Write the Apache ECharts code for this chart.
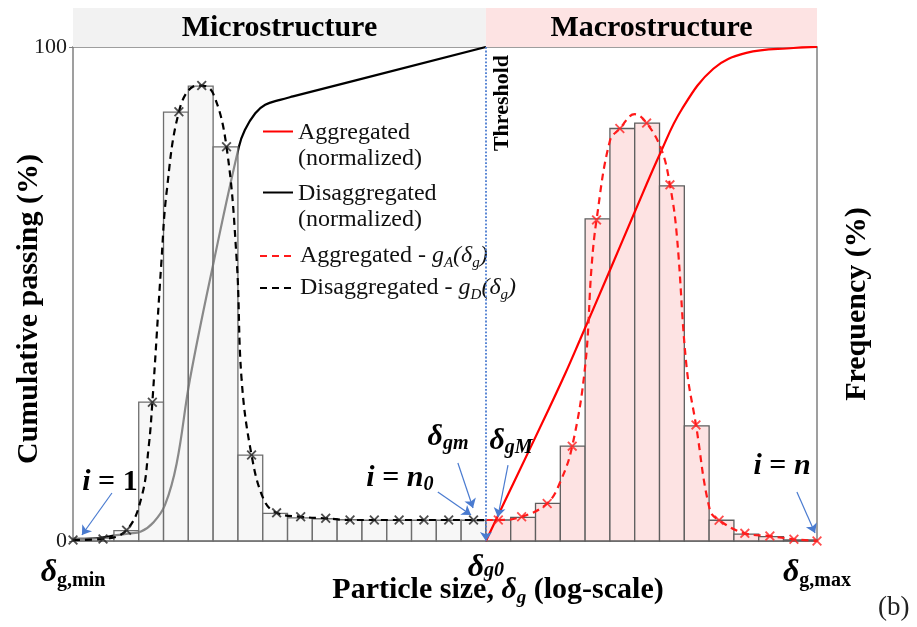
<!DOCTYPE html>
<html>
<head>
<meta charset="utf-8">
<script src="https://cdn.jsdelivr.net/npm/echarts@6/dist/echarts.min.js"></script>
<style>html,body{margin:0;padding:0;background:#fff;}#c{width:917px;height:627px;}</style>
</head>
<body>
<div id="c"></div>
<script>
// ---------------- data (x in log-scale bin units, threshold = 0) ----------------
const microEdges = [-16.65,-15,-14,-13,-12,-11,-10,-9,-8,-7,-6,-5,-4,-3,-2,-1,0];
const microFreq  = [0.6,2.1,28.1,86.8,92.1,79.8,17.4,5.6,4.7,4.5,4.3,4.2,4.2,4.2,4.2,4.2];
const macroEdges = [0,1,2,3,4,5,6,7,8,9,10,11,12,13.35];
const macroFreq  = [4.25,4.8,7.6,19.2,65.2,83.5,84.6,71.9,23.3,4.2,1.4,0.9,0.2];

const cumDX = [-16.65,-15.5,-14.9,-14.4,-13.91,-13.4,-12.94,-12.47,-11.94,-10.96,-9.96,-9.72,-9.3,-8.9,-8.3,-7.78,0];
const cumDY = [0.2,0.7,1.2,1.5,1.9,3.8,7.3,15.7,32.6,56.9,79.8,83.2,86.6,88.3,89.3,90.0,100];
const cumAX = [0,1.1,2.45,3.19,3.79,5.0,6.0,7.02,7.9,9.17,10.5,12.4,13.35];
const cumAY = [0,11.6,25.8,33.8,40.7,54.8,66.6,78.4,87.4,95.6,98.8,99.8,100];

const gDX = [-16.65,-15.44,-14.49,-13.88,-13.6,-13.45,-13.08,-12.88,-12.38,-11.8,-11.46,-11.0,-10.46,-10.05,-9.85,-9.45,-8.95,-8.44,-7.47,-6.46,-5.48,-4.5,-3.5,-2.5,-1.5,-0.5,0];
const gDY = [0.2,0.4,2.2,9.0,19.0,28.1,56.9,70.4,86.9,92.0,92.2,90.6,79.8,56.9,32.6,17.4,8.3,5.7,4.9,4.6,4.25,4.25,4.25,4.25,4.25,4.25,4.2];
const gDMarkX = [-16.65,-15.44,-14.49,-13.45,-12.38,-11.46,-10.46,-9.45,-8.44,-7.47,-6.46,-5.48,-4.5,-3.5,-2.5,-1.5,-0.5];
const gDMarkY = [0.2,0.4,2.2,28.1,86.9,92.2,79.8,17.4,5.7,4.9,4.6,4.25,4.25,4.25,4.25,4.25,4.25];

const gAX = [0,0.5,1.44,2.47,3.0,3.48,4.0,4.26,4.46,5.0,5.4,6.0,6.48,7.08,7.42,7.69,8.09,8.47,9.03,9.4,10.44,11.45,12.42,13.35];
const gAY = [4.25,4.25,4.9,7.6,12.0,19.2,35.3,55.5,65.0,81.0,83.5,86.4,84.6,79.2,72.1,62.3,35.3,23.5,6.3,4.2,1.55,1.0,0.35,0];
const gAMarkX = [0.5,1.44,2.47,3.48,4.46,5.4,6.48,7.42,8.47,9.4,10.44,11.45,12.42,13.35];
const gAMarkY = [4.25,4.9,7.6,19.2,65.0,83.5,84.6,72.1,23.5,4.2,1.55,1.0,0.35,0];

const xTickValues = [-16.65, 0, 13.35];
const xTickLabels = ['{d|δ}{sb|g,min}', '{d0|δ}{si0|g0}', '{d|δ}{sb|g,max}'];
const yTickValues = [0, 100];
const headerEdges = [[-16.65, 0], [0, 13.35]];
const headerNames = ['Microstructure', 'Macrostructure'];

const noteX = [-15.16, -3.47, -1.53, 1.01, 11.94, 0.65];
const noteY = [11.94, 12.75, 21.05, 20.24, 15.18, 88.66];
const noteText = ['{bi|i}{b| = 1}', '{bi|i}{b| = }{bi|n}{bs|0}', '{bi|δ}{bs|gm}', '{bi|δ}{bs|gM}', '{bi|i}{b| = }{bi|n}', '{th|Threshold}'];
const arrowFrom = [[-15.08, 9.72], [-1.94, 9.92], [-1.13, 15.79], [0.89, 15.38], [12.54, 9.92]];
const arrowTo   = [[-16.29, 1.21], [-0.60, 5.26], [-0.52, 6.68], [0.48, 4.86], [13.27, 1.62]];

const NAME_AGG_N = 'Aggregated (normalized)';
const NAME_DIS_N = 'Disaggregated (normalized)';
const NAME_AGG_G = 'Aggregated - gA';
const NAME_DIS_G = 'Disaggregated - gD';
const legendText = {};
legendText[NAME_AGG_N] = '{t1|Aggregated}\n{t2|(normalized)}';
legendText[NAME_DIS_N] = '{t1|Disaggregated}\n{t2|(normalized)}';
legendText[NAME_AGG_G] = '{r|Aggregated - }{i|g}{s|A}{i|(δ}{s|g}{i|)}';
legendText[NAME_DIS_G] = '{r|Disaggregated - }{i|g}{s|D}{i|(δ}{s|g}{i|)}';

// ---------------- styling ----------------
const SERIF = "'Liberation Serif','Times New Roman',serif";
const AXIS_GRAY = '#7f7f7f';
const BLUE = '#4a7bd0';
const XMARK = 'path://M0,1.3L1.3,0L5,3.7L8.7,0L10,1.3L6.3,5L10,8.7L8.7,10L5,6.3L1.3,10L0,8.7L3.7,5Z';

const pairs = (xs, ys) => xs.map((x, i) => [x, ys[i]]);
const binData = (edges, freq) => freq.map((f, i) => [edges[i], edges[i + 1], f]);

function barRenderer(fill, stroke) {
  return function (params, api) {
    const p0 = api.coord([api.value(0), api.value(2)]);
    const p1 = api.coord([api.value(1), 0]);
    return {
      type: 'rect',
      shape: { x: p0[0], y: p0[1], width: p1[0] - p0[0], height: p1[1] - p0[1] },
      style: { fill: fill, stroke: stroke, lineWidth: 1.3 }
    };
  };
}

const legendRich = {
  t1: { fontFamily: SERIF, fontSize: 24, color: '#111', lineHeight: 54, verticalAlign: 'bottom' },
  t2: { fontFamily: SERIF, fontSize: 24, color: '#111', lineHeight: 27 },
  r: { fontFamily: SERIF, fontSize: 24, color: '#111', lineHeight: 30 },
  i: { fontFamily: SERIF, fontSize: 24, fontStyle: 'italic', color: '#111', lineHeight: 30 },
  s: { fontFamily: SERIF, fontSize: 15, fontStyle: 'italic', color: '#111', lineHeight: 30, verticalAlign: 'bottom' }
};
function makeLegend(name, left, top, w) {
  return {
    data: [name], orient: 'vertical', left: left, top: top, padding: 0,
    itemWidth: w, itemHeight: 14, selectedMode: false,
    itemStyle: { color: 'rgba(0,0,0,0)', borderColor: 'rgba(0,0,0,0)', borderWidth: 0, opacity: 0 },
    formatter: n => legendText[n],
    textStyle: { rich: legendRich, fontFamily: SERIF, fontSize: 24, color: '#111' }
  };
}

const noteRich = {
  bi: { fontFamily: SERIF, fontSize: 30, fontWeight: 'bold', fontStyle: 'italic', color: '#000', lineHeight: 34 },
  b: { fontFamily: SERIF, fontSize: 30, fontWeight: 'bold', color: '#000', lineHeight: 34 },
  bs: { fontFamily: SERIF, fontSize: 20, fontWeight: 'bold', fontStyle: 'italic', color: '#000', lineHeight: 34, verticalAlign: 'bottom' },
  th: { fontFamily: SERIF, fontSize: 22, fontWeight: 'bold', color: '#000' }
};

const axisLineStyle = { show: true, onZero: false, lineStyle: { color: AXIS_GRAY, width: 1.5 } };

const option = {
  animation: false,
  backgroundColor: '#fff',
  title: { text: '(b)', left: 878, top: 594, padding: 0,
    textStyle: { fontFamily: SERIF, fontSize: 27, fontWeight: 'normal', color: '#222' } },
  legend: [
    makeLegend(NAME_AGG_N, 262, 121, 30),
    makeLegend(NAME_DIS_N, 262, 182, 30),
    makeLegend(NAME_AGG_G, 259, 244, 35),
    makeLegend(NAME_DIS_G, 259, 276, 35)
  ],
  grid: [
    { left: 73, right: 100, top: 47, bottom: 86, containLabel: false, outerBoundsMode: 'none' },
    { left: 73, right: 100, top: 8, height: 39, containLabel: false, outerBoundsMode: 'none' }
  ],
  xAxis: [
    { type: 'value', gridIndex: 0, position: 'bottom', min: -16.65, max: 13.35,
      axisLine: axisLineStyle, axisTick: { show: false }, splitLine: { show: false },
      axisLabel: { show: true, customValues: xTickValues, showMinLabel: true, showMaxLabel: true, margin: 14,
        formatter: (v) => xTickLabels[xTickValues.indexOf(v)] || '',
        rich: {
          d: { fontFamily: SERIF, fontSize: 32, fontStyle: 'italic', fontWeight: 'bold', color: '#000', lineHeight: 36 },
          sb: { fontFamily: SERIF, fontSize: 20, fontWeight: 'bold', color: '#000', lineHeight: 36, verticalAlign: 'bottom' },
          d0: { fontFamily: SERIF, fontSize: 32, fontStyle: 'italic', fontWeight: 'bold', color: '#000', lineHeight: 26 },
          si0: { fontFamily: SERIF, fontSize: 20, fontWeight: 'bold', fontStyle: 'italic', color: '#000', lineHeight: 26, verticalAlign: 'bottom' }
        } },
      name: '{b|Particle size, }{d|δ}{s|g}{b| (log-scale)}', nameLocation: 'middle', nameGap: 31, nameMoveOverlap: false,
      nameTextStyle: { padding: [0, 0, 0, 106], rich: {
        b: { fontFamily: SERIF, fontSize: 30, fontWeight: 'bold', color: '#000', lineHeight: 36 },
        d: { fontFamily: SERIF, fontSize: 30, fontWeight: 'bold', fontStyle: 'italic', color: '#000', lineHeight: 36 },
        s: { fontFamily: SERIF, fontSize: 19, fontWeight: 'bold', fontStyle: 'italic', color: '#000', lineHeight: 36, verticalAlign: 'bottom' }
      } } },
    { type: 'value', gridIndex: 0, position: 'top', min: -16.65, max: 13.35,
      axisLine: axisLineStyle, axisTick: { show: false }, axisLabel: { show: false }, splitLine: { show: false } },
    { type: 'value', gridIndex: 1, min: -16.65, max: 13.35, show: false }
  ],
  yAxis: [
    { type: 'value', gridIndex: 0, position: 'left', min: 0, max: 100, interval: 100,
      axisLine: axisLineStyle, axisTick: { show: true, length: 4, lineStyle: { color: AXIS_GRAY } },
      splitLine: { show: false },
      axisLabel: { fontFamily: SERIF, fontSize: 22, color: '#1a1a1a', margin: 6,
        customValues: yTickValues },
      name: 'Cumulative passing (%)', nameLocation: 'middle', nameGap: 29, nameRotate: 90, nameMoveOverlap: false,
      nameTextStyle: { fontFamily: SERIF, fontSize: 30, fontWeight: 'bold', color: '#000', padding: [0, 30, 0, 0] } },
    { type: 'value', gridIndex: 0, position: 'right', min: 0, max: 100,
      axisLine: axisLineStyle, axisTick: { show: false }, axisLabel: { show: false }, splitLine: { show: false },
      name: 'Frequency (%)', nameLocation: 'middle', nameGap: 25, nameRotate: 90, nameMoveOverlap: false,
      nameTextStyle: { fontFamily: SERIF, fontSize: 30, fontWeight: 'bold', color: '#000', padding: [0, 20, 0, 0] } },
    { type: 'value', gridIndex: 1, min: 0, max: 1, show: false }
  ],
  series: [
    { type: 'custom', name: 'header', xAxisIndex: 2, yAxisIndex: 2, silent: true, z: 1,
      data: headerEdges,
      encode: { x: [0, 1] },
      renderItem: function (params, api) {
        const i = params.dataIndex;
        const p0 = api.coord([api.value(0), 1]);
        const p1 = api.coord([api.value(1), 0]);
        return { type: 'group', children: [
          { type: 'rect', shape: { x: p0[0], y: p0[1], width: p1[0] - p0[0], height: p1[1] - p0[1] },
            style: { fill: i === 0 ? '#f2f2f2' : '#fde3e3' } },
          { type: 'text', x: (p0[0] + p1[0]) / 2, y: (p0[1] + p1[1]) / 2 + 1,
            style: { text: headerNames[i], align: 'center', verticalAlign: 'middle',
              fontFamily: SERIF, fontSize: 30, fontWeight: 'bold', fill: '#000' } }
        ] };
      } },
    { type: 'line', name: NAME_DIS_N, xAxisIndex: 0, yAxisIndex: 0, z: 1,
      data: pairs(cumDX, cumDY), smooth: 0.4, symbol: 'none',
      lineStyle: { color: '#000', width: 2.2 }, itemStyle: { color: '#000' } },
    { type: 'custom', name: 'micro bins', xAxisIndex: 0, yAxisIndex: 1, z: 2, silent: true,
      data: binData(microEdges, microFreq), encode: { x: [0, 1], y: 2 },
      renderItem: barRenderer('rgba(241,241,241,0.57)', '#6e6e6e') },
    { type: 'custom', name: 'macro bins', xAxisIndex: 0, yAxisIndex: 1, z: 2, silent: true,
      data: binData(macroEdges, macroFreq), encode: { x: [0, 1], y: 2 },
      renderItem: barRenderer('#fde3e3', '#5e5e5e') },
    { type: 'line', name: NAME_AGG_N, xAxisIndex: 0, yAxisIndex: 0, z: 3,
      data: pairs(cumAX, cumAY), smooth: 0.4, symbol: 'none',
      lineStyle: { color: '#ff0000', width: 2.2 }, itemStyle: { color: '#ff0000' } },
    { type: 'line', name: NAME_DIS_G, xAxisIndex: 0, yAxisIndex: 1, z: 4,
      data: pairs(gDX, gDY), smooth: 0.4, symbol: 'none',
      lineStyle: { color: '#000', width: 2.2, type: [7, 5] }, itemStyle: { color: '#000' } },
    { type: 'line', name: NAME_AGG_G, xAxisIndex: 0, yAxisIndex: 1, z: 4,
      data: pairs(gAX, gAY), smooth: 0.4, symbol: 'none',
      lineStyle: { color: '#ff1a1a', width: 2.2, type: [7, 5] }, itemStyle: { color: '#ff1a1a' } },
    { type: 'scatter', name: 'gD marks', xAxisIndex: 0, yAxisIndex: 1, z: 5, silent: true,
      data: pairs(gDMarkX, gDMarkY), symbol: XMARK, symbolSize: 10, itemStyle: { color: '#222' } },
    { type: 'scatter', name: 'gA marks', xAxisIndex: 0, yAxisIndex: 1, z: 5, silent: true,
      data: pairs(gAMarkX, gAMarkY), symbol: XMARK, symbolSize: 10, itemStyle: { color: '#ff2020' } },
    { type: 'custom', name: 'notes', xAxisIndex: 0, yAxisIndex: 0, z: 6, silent: true,
      data: noteX.map((x, i) => [x, noteY[i]]), encode: { x: 0, y: 1 },
      renderItem: function (params, api) {
        const i = params.dataIndex;
        const p = api.coord([api.value(0), api.value(1)]);
        const isRot = noteText[i].indexOf('{th|') === 0;
        return { type: 'text', x: p[0], y: p[1], rotation: isRot ? Math.PI / 2 : 0,
          style: { text: noteText[i], align: 'center', verticalAlign: 'middle', rich: noteRich,
            fontFamily: SERIF, fontSize: 30, fill: '#000' } };
      },
      markLine: { silent: true, animation: false, symbol: ['none', 'arrow'], symbolSize: 9,
        label: { show: false }, emphasis: { disabled: true },
        lineStyle: { color: BLUE, width: 1.2, type: 'solid' },
        data: [[{ coord: [0, 100], lineStyle: { type: 'dotted', width: 1.8, color: BLUE } }, { coord: [0, 0] }]]
          .concat(arrowFrom.map((a, i) => [{ coord: a }, { coord: arrowTo[i] }])) } }
  ]
};

const chart = echarts.init(document.getElementById('c'), null, { renderer: 'canvas' });
chart.setOption(option);
</script>
</body>
</html>
